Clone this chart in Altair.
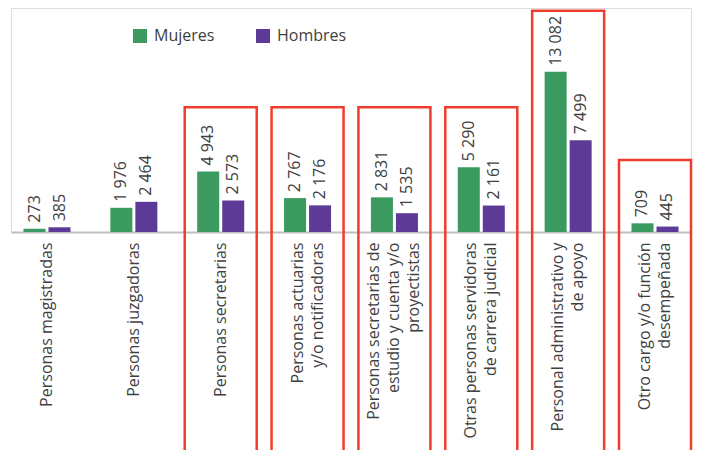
import altair as alt
import pandas as pd

categories = [
    "Personas magistradas",
    "Personas juzgadoras",
    "Personas secretarias",
    "Personas actuarias|y/o notificadoras",
    "Personas secretarias de|estudio y cuenta y/o|proyectistas",
    "Otras personas servidoras|de carrera judicial",
    "Personal administrativo y|de apoyo",
    "Otro cargo y/o función|desempeñada",
]
mujeres = [273, 1976, 4943, 2767, 2831, 5290, 13082, 709]
hombres = [385, 2464, 2573, 2176, 1535, 2161, 7499, 445]
series = ["Mujeres", "Hombres"]
colors = ["#3a9a5f", "#5c3a96"]

# highlighted categories and the top of each highlight box (in data units)
box_categories = categories[2:]
box_tops = [10200, 10200, 10200, 10200, 18080, 5880]

rows = []
for c, m, h in zip(categories, mujeres, hombres):
    for s, v in zip(series, [m, h]):
        rows.append({"cat": c, "serie": s, "valor": v,
                     "etiqueta": f"{v:,}".replace(",", " ")})
df = pd.DataFrame(rows)
boxes = pd.DataFrame({"cat": box_categories, "top": box_tops})

FONT = "Open Sans"
TXT = "#404040"

nlines = "length(split(datum.label, '|'))"
label_offset = {
    "condition": [
        {"test": f"{nlines} == 3", "value": -20},
        {"test": f"{nlines} == 2", "value": -10},
    ],
    "value": 0,
}

x = alt.X("cat:N", sort=categories, title=None,
          scale=alt.Scale(domain=categories, paddingInner=0.171, paddingOuter=0),
          axis=alt.Axis(labelAngle=270, labelAlign="right", labelBaseline="middle",
                        labelExpr="split(datum.label, '|')", labelLineHeight=20,
                        labelOffset=label_offset,
                        labelFontSize=16, labelFont=FONT, labelColor=TXT,
                        labelPadding=10, ticks=False, domainColor="#bfbfbf",
                        domainWidth=2, labelLimit=400))
y = alt.Y("valor:Q", scale=alt.Scale(domain=[0, 18300], nice=False, zero=True),
          axis=None)
xoff = alt.XOffset("serie:N", sort=series,
                   scale=alt.Scale(domain=series, paddingInner=0.12, paddingOuter=0.5))
color = alt.Color("serie:N", sort=series,
                  scale=alt.Scale(domain=series, range=colors),
                  legend=alt.Legend(title=None, orient="none", legendX=121, legendY=20,
                                    direction="horizontal", symbolType="square",
                                    symbolSize=196, symbolStrokeWidth=0,
                                    labelFontSize=16, labelFont=FONT, labelColor=TXT,
                                    labelOffset=6, columnPadding=40))

bars = alt.Chart(df).mark_bar().encode(x=x, y=y, xOffset=xoff, color=color)
labels = alt.Chart(df).mark_text(angle=270, align="left", baseline="middle", dx=6,
                                 fontSize=16, font=FONT, color=TXT).encode(
    x=x, y=y, xOffset=xoff, text="etiqueta:N")
grouped = alt.layer(bars, labels)

rects = alt.Chart(boxes).mark_rect(filled=False, stroke="#f03c2e", strokeWidth=2.5).encode(
    x=alt.X("cat:N", sort=categories, axis=None,
            scale=alt.Scale(domain=categories, paddingInner=0.171, paddingOuter=0)),
    y=alt.Y("top:Q", axis=None, scale=alt.Scale(domain=[0, 18300], nice=False)),
    y2=alt.value(520),
)

chart = alt.layer(grouped, rects).resolve_scale(x="independent").properties(
    width=680, height=224,
    autosize=alt.AutoSizeParams(type="none"),
    padding={"left": 3, "top": 0, "right": 2, "bottom": 218},
).configure_view(stroke=None).configure(font=FONT)

chart.save("out.html", embed_options={"renderer": "svg", "actions": False})
